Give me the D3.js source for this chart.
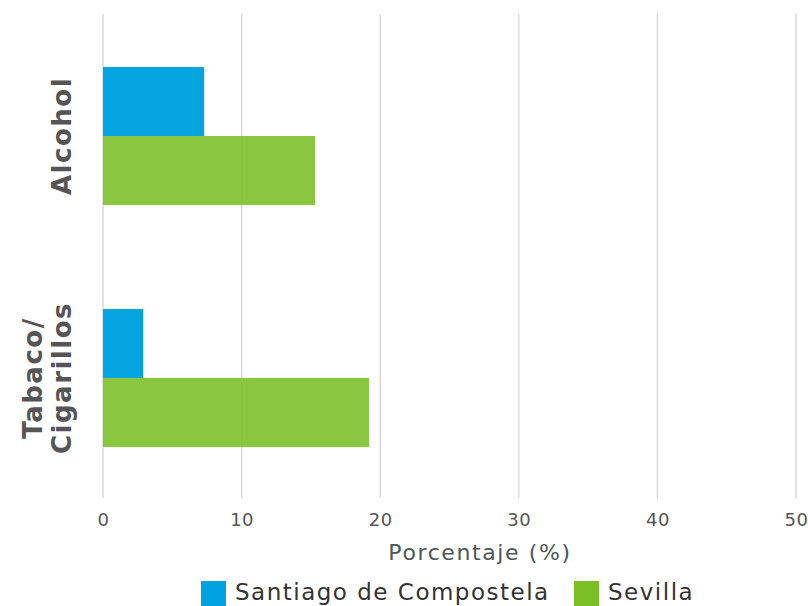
<!DOCTYPE html>
<html>
<head>
<meta charset="utf-8">
<script src="https://cdn.jsdelivr.net/npm/d3@7"></script>
<style>
  body { margin: 0; background: #fff; }
  text { font-family: "DejaVu Sans", sans-serif; }
</style>
</head>
<body>
<div id="canvas"></div>
<script>
const categories = ["Alcohol", "Tabaco/Cigarillos"];
const series = ["Santiago de Compostela", "Sevilla"];
const santiago = [7.3, 2.9];
const sevilla = [15.3, 19.2];
const ticks = [0, 10, 20, 30, 40, 50];

const colors = ["#00a3e0", "#7abf26"];
const values = [santiago, sevilla];

const width = 808;
const height = 606;
const margin = { top: 15, left: 103, bottom: 107, right: 12 };

const svg = d3.select("#canvas")
  .append("svg")
  .attr("width", width)
  .attr("height", height);

const x = d3.scaleLinear()
  .domain([0, 50])
  .range([margin.left, 796]);

const y = d3.scaleBand()
  .domain(categories)
  .range([margin.top, height - margin.bottom])
  .paddingInner(0.43)
  .paddingOuter(0.215);

const ySub = d3.scaleBand()
  .domain(series)
  .range([0, y.bandwidth()]);

// rejilla
svg.append("g")
  .selectAll("line")
  .data(ticks)
  .join("line")
  .attr("x1", d => x(d))
  .attr("x2", d => x(d))
  .attr("y1", 14)
  .attr("y2", 498)
  .attr("stroke", "#d9d9d9")
  .attr("stroke-width", 1.5);

// barras
series.forEach((s, i) => {
  svg.append("g")
    .selectAll("rect")
    .data(categories)
    .join("rect")
    .attr("x", x(0))
    .attr("y", d => y(d) + ySub(s))
    .attr("width", (d, j) => x(values[i][j]) - x(0))
    .attr("height", ySub.bandwidth())
    .attr("fill", colors[i])
    .attr("fill-opacity", i === 0 ? 0.99 : 0.88);
});

// eje x
const xAxis = svg.append("g")
  .attr("transform", "translate(0,520)")
  .call(d3.axisBottom(x).tickValues(ticks).tickSize(0).tickPadding(0));
xAxis.select(".domain").remove();
xAxis.selectAll("text")
  .attr("dy", "0.35em")
  .attr("font-size", 18)
  .attr("fill", "#555")
  .attr("letter-spacing", 0.5)
  .style("font-family", "'DejaVu Sans', sans-serif");

svg.append("text")
  .attr("x", 480)
  .attr("y", 552)
  .attr("dy", "0.35em")
  .attr("text-anchor", "middle")
  .attr("font-size", 22)
  .attr("fill", "#4a5858")
  .attr("letter-spacing", 1.6)
  .text("Porcentaje (%)");

// etiquetas de categoría
const catLabels = [["Alcohol"], ["Tabaco/", "Cigarillos"]];
categories.forEach((c, i) => {
  const cy = y(c) + y.bandwidth() / 2;
  const lines = catLabels[i];
  lines.forEach((t, k) => {
    const cx = 62 - (lines.length - 1 - k) * 29;
    svg.append("text")
      .attr("transform", `translate(${cx},${cy}) rotate(-90)`)
      .attr("text-anchor", "middle")
      .attr("dy", "0.35em")
      .attr("font-size", 26)
      .attr("font-weight", "bold")
      .attr("fill", "#555")
      .attr("letter-spacing", 1.5)
      .text(t);
  });
});

// leyenda
const legendX = [201, 574];
series.forEach((s, i) => {
  svg.append("rect")
    .attr("x", legendX[i])
    .attr("y", 581)
    .attr("width", 25)
    .attr("height", 25)
    .attr("fill", colors[i]);
  svg.append("text")
    .attr("x", legendX[i] + 34)
    .attr("y", 592)
    .attr("dy", "0.35em")
    .attr("font-size", 23)
    .attr("fill", "#333")
    .attr("letter-spacing", 1.5)
    .text(s);
});
</script>
</body>
</html>
